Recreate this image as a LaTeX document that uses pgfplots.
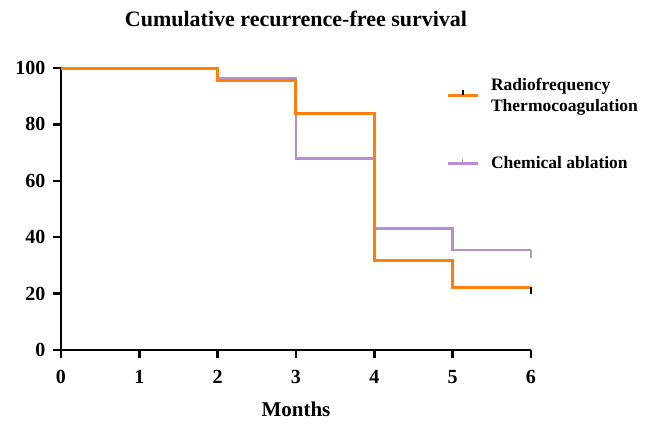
\documentclass[border=0pt]{standalone}
\usepackage{fontspec}
\setmainfont{Liberation Serif}
\usepackage{pgfplots}
\pgfplotsset{compat=1.18}
\definecolor{rfcol}{RGB}{255,127,14}
\definecolor{chcol}{RGB}{182,140,212}
\definecolor{chtick}{RGB}{170,160,190}
\pgfdeclareplotmark{cdown}{\pgfpathmoveto{\pgfpoint{0pt}{0pt}}\pgfpathlineto{\pgfpoint{0pt}{-\pgfplotmarksize}}\pgfusepathqstroke}
\begin{document}
\begin{tikzpicture}
\useasboundingbox (-61pt,-74pt) rectangle (593pt,350pt);
\begin{axis}[
  scale only axis, width=470pt, height=282pt,
  xmin=0, xmax=6, ymin=0, ymax=100,
  axis lines=left, axis line style={line width=2.4pt, -},
  xtick={0,1,2,3,4,5,6}, ytick={0,20,40,60,80,100},
  tick style={black, line width=2.4pt},
  tick align=outside, major tick length=8pt,
  tick label style={font=\fontsize{20}{20}\selectfont\bfseries},
  xticklabel style={yshift=-9pt},
  yticklabel style={xshift=-4pt},
  /pgf/number format/assume math mode=true,
  title={Cumulative recurrence-free survival},
  title style={font=\fontsize{22}{22}\selectfont\bfseries, at={(0.5,1)}, anchor=base, yshift=36pt},
  xlabel={Months},
  xlabel style={font=\fontsize{21}{21}\selectfont\bfseries, at={(0.5,0)}, anchor=base, inner sep=0pt, yshift=-66pt},
  clip=false,
  legend style={at={(0.8125,0.98)}, anchor=north west, draw=none, fill=none,
    font=\fontsize{17.5}{21}\selectfont\bfseries, row sep=40pt, column sep=0pt,
    nodes={align=left, anchor=west, inner xsep=12pt}},
  legend cell align=left,
  reverse legend,
]
\addplot[const plot, color=chcol, line width=2.6pt,
  legend image code/.code={\draw[chcol, line width=2.6pt] (0pt,0pt) -- (30pt,0pt); \draw[chtick, line width=1.5pt] (15pt,0pt) -- (15pt,4pt);}]
  coordinates {(0,100) (2,96.5) (3,68) (4,43) (5,35.5) (6,35.5)};
\addlegendentry{Chemical ablation}
\addplot[const plot, color=rfcol, line width=3pt,
  legend image code/.code={\draw[rfcol, line width=3pt] (0pt,0pt) -- (30pt,0pt); \draw[black, line width=2pt] (15pt,0pt) -- (15pt,5pt);}]
  coordinates {(0,100) (2,95.4) (3,84) (4,31.6) (5,22.3) (6,22.3)};
\addlegendentry{Radiofrequency\\Thermocoagulation}
\addplot[only marks, mark=cdown, mark size=8pt, chtick, mark options={line width=2pt}, forget plot]
  coordinates {(6,35.5)};
\addplot[only marks, mark=cdown, mark size=7pt, black, mark options={line width=2.4pt}, forget plot]
  coordinates {(6,22.3)};
\end{axis}
\end{tikzpicture}
\end{document}
